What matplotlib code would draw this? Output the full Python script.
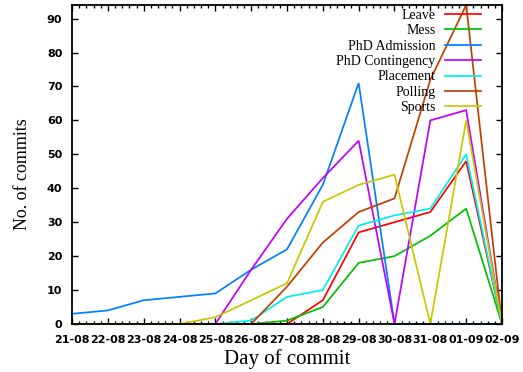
import matplotlib
matplotlib.use("Agg")
import matplotlib.pyplot as plt
from matplotlib.ticker import MultipleLocator, FixedLocator

days = ["21-08", "22-08", "23-08", "24-08", "25-08", "26-08", "27-08",
        "28-08", "29-08", "30-08", "31-08", "01-09", "02-09"]

leave = [0, 0, 0, 0, 0, 0, 0, 7, 27, 30, 33, 48, 0]
mess = [0, 0, 0, 0, 0, 0, 1, 5, 18, 20, 26, 34, 0]
phd_admission = [3, 4, 7, 8, 9, 16, 22, 41, 71, 0, 0, 0, 0]
phd_contingency = [0, 0, 0, 0, 0, 16, 31, 43, 54, 0, 60, 63, 0]
placement = [0, 0, 0, 0, 0, 1, 8, 10, 29, 32, 34, 50, 0]
polling = [0, 0, 0, 0, 0, 0, 11, 24, 33, 37, 72, 94, 0]
sports = [0, 0, 0, 0, 2, 7, 12, 36, 41, 44, 0, 60, 0]

series = [
    ("Leave", leave, "#ff0000"),
    ("Mess", mess, "#00c000"),
    ("PhD Admission", phd_admission, "#0080ff"),
    ("PhD Contingency", phd_contingency, "#c000ff"),
    ("Placement", placement, "#00eeee"),
    ("Polling", polling, "#c04000"),
    ("Sports", sports, "#c8c800"),
]

fig = plt.figure(figsize=(5.23, 3.72), dpi=100)
ax = fig.add_axes([72 / 523, 1 - 324 / 372, 430 / 523, 319 / 372])

x = list(range(len(days)))
for name, vals, col in series:
    ax.plot(x, vals, color=col, lw=1.25, label=name, clip_on=False,
            solid_joinstyle="miter")

ax.set_xlim(0, len(days) - 1)
ax.set_ylim(0, max(polling))

ax.xaxis.set_major_locator(FixedLocator(x))
ax.xaxis.set_minor_locator(MultipleLocator(0.2))
ax.yaxis.set_major_locator(MultipleLocator(10))
ax.set_xticklabels(days)

for lab in ax.get_xticklabels() + ax.get_yticklabels():
    lab.set_fontfamily("DejaVu Sans")
    lab.set_fontweight("bold")
    lab.set_fontsize(8)

ax.tick_params(axis="both", which="major", direction="in", length=4,
               width=1, top=True, right=True, colors="black")
ax.tick_params(axis="x", which="minor", direction="in", length=2.5,
               width=1, top=True, bottom=True)
ax.tick_params(axis="x", which="major", pad=8)
ax.tick_params(axis="y", which="major", pad=7)

for sp in ax.spines.values():
    sp.set_linewidth(1.3)
    sp.set_color("black")

ax.set_xlabel("Day of commit", family="Liberation Serif", fontsize=15,
              labelpad=3)
ax.set_ylabel("No. of commits", family="Liberation Serif", fontsize=13)
ax.yaxis.set_label_coords(-0.095, 0.47)

leg = ax.legend(loc="upper right", markerfirst=False, frameon=False,
                prop=dict(family="Liberation Serif", size=10),
                handlelength=2.6, handletextpad=0.7, labelspacing=0.17,
                borderaxespad=0.0)
leg.set_bbox_to_anchor(((487 - 72) / 430, 1.005), transform=ax.transAxes)

fig.savefig("out.png", dpi=100)
